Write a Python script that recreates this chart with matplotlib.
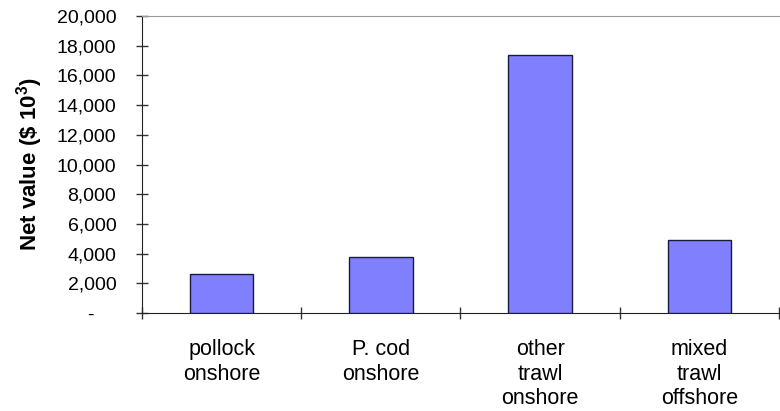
import matplotlib.pyplot as plt
import numpy as np

categories = ["pollock\nonshore", "P. cod\nonshore", "other\ntrawl\nonshore", "mixed\ntrawl\noffshore"]
net_values = [2600, 3750, 17400, 4900]
yticks = [0, 2000, 4000, 6000, 8000, 10000, 12000, 14000, 16000, 18000, 20000]

plt.rcParams['font.family'] = ['Liberation Sans', 'DejaVu Sans']
plt.rcParams['mathtext.fontset'] = 'custom'
plt.rcParams['mathtext.rm'] = 'Liberation Sans'
plt.rcParams['mathtext.bf'] = 'Liberation Sans:bold'

fig = plt.figure(figsize=(7.8, 4.11), dpi=100)
ax = fig.add_axes([0.182, 0.2384, 0.8167, 0.7226])

x = np.arange(len(categories))
ax.bar(x, net_values, width=0.4, color="#8080FF", edgecolor="#1a1a40", linewidth=1.0, zorder=3)

ax.set_xlim(-0.5, len(categories) - 0.5)
ax.set_ylim(0, 20000)
ax.set_yticks(yticks)
# accounting style: zero shown as a dash, set in from the right
ax.set_yticklabels(["-    " if v == 0 else f"{v:,}" for v in yticks], fontsize=14)

# category ticks sit between the bars, labels centred under the bars
ax.set_xticks(np.arange(-0.5, len(categories)), minor=False)
ax.set_xticklabels([])
ax.set_xticks(x, minor=True)
ax.set_xticklabels(categories, minor=True, fontsize=15.5, linespacing=1.2, va="top")
ax.tick_params(axis="x", which="minor", length=0, pad=19)
ax.tick_params(axis="x", which="major", direction="inout", length=9, width=1, color="#333333")
ax.tick_params(axis="y", direction="inout", length=9, width=1, color="#333333", pad=14)

ax.spines["right"].set_visible(False)
ax.spines["top"].set_color("#999999")
ax.spines["left"].set_color("#222222")
ax.spines["bottom"].set_color("#222222")

ax.set_ylabel("Net value (\\$ 10$\\mathbf{^3}$)", fontsize=16, fontweight="bold", labelpad=8)

fig.savefig("out.png", dpi=100)
